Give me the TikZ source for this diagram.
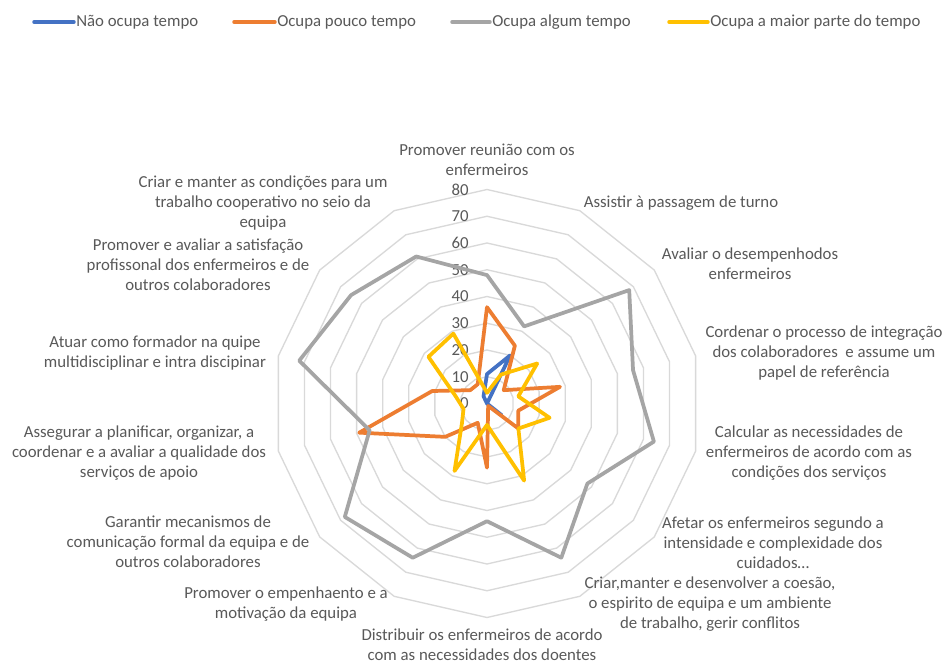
\documentclass[tikz,border=0pt]{standalone}
\usepackage{fontspec}
\setmainfont{Carlito}
\usetikzlibrary{positioning}
\definecolor{txtgray}{HTML}{595959}
\definecolor{ringgray}{HTML}{D9D9D9}
\definecolor{serA}{HTML}{4472C4}
\definecolor{serB}{HTML}{ED7D31}
\definecolor{serC}{HTML}{A5A5A5}
\definecolor{serD}{HTML}{FFC000}

\begin{document}
\begin{tikzpicture}[x=0.75pt,y=-0.75pt,
    every node/.append style={font=\fontsize{12.6}{15}\selectfont, text=txtgray},
    ring/.style={draw=ringgray, line width=1pt},
    series/.style={line width=2.8pt, line join=round},
    axlabel/.style={align=center, inner sep=0pt},
    legline/.style={line width=2.6pt, line cap=round}]
  \useasboundingbox[fill=white] (0,0) rectangle (947,664);
  % legend
  \foreach \col/\xa/\xb/\txt [count=\i] in {serA/34/74/Não ocupa tempo,
      serB/234/275/Ocupa pouco tempo, serC/452/490/Ocupa algum tempo,
      serD/669/708/Ocupa a maior parte do tempo} {
    \coordinate (leg\i a) at (\xa,22);
    \coordinate (leg\i b) at (\xb,22);
    \draw[legline, draw=\col] (leg\i a) -- (leg\i b);
    \node[anchor=west, inner sep=1.5pt] (legtxt\i) at (leg\i b) {\txt};
  }
  \begin{scope}[shift={(487,403.5)}]
    % rings 10 ... 80
    \foreach \r in {1,...,8}
      \draw[ring] (0,{-26.75*\r}) \foreach \k in {1,...,13}
        { -- ({26.75*\r*sin(\k*360/14)},{-26.75*\r*cos(\k*360/14)}) } -- cycle;
    % scale values
    \foreach \v in {0,10,...,80}
      \node[anchor=east, inner sep=0pt] (tick\v) at (-18,{-2.675*\v}) {\v};
    % data series
    \foreach \s/\col/\vals in {
        na/serA/{11,20,0,0,0,7,0,0,0,0,0,0,0,3},
        po/serB/{36,24,8,28,12,15,1,24,8,20,49,21,8,8},
        al/serC/{48,32,68,56,64,48,64,44,64,68,45,72,65,61},
        ma/serD/{4,12,24,12,24,15,32,8,28,12,9,12,28,29}} {
      \foreach \v [count=\k from 0] in \vals
        \coordinate (\s\k) at ({2.675*\v*sin(\k*360/14)},{-2.675*\v*cos(\k*360/14)});
      \draw[series, draw=\col] (\s0) \foreach \k in {1,...,13} { -- (\s\k) } -- cycle;
    }
  \end{scope}
  % category labels
  \node[axlabel] (cat0) at (487,160) {Promover reunião com os\\enfermeiros};
  \node[axlabel] (cat1) at (681,203) {Assistir à passagem de turno};
  \node[axlabel] (cat2) at (750,264) {Avaliar o desempenhodos\\enfermeiros};
  \node[axlabel] (cat3) at (824,353) {Cordenar o processo de integração\\dos colaboradores\ \ e assume um\\papel de referência};
  \node[axlabel] (cat4) at (809,453) {Calcular as necessidades de\\enfermeiros de acordo com as\\condições dos serviços};
  \node[axlabel] (cat5) at (773,543) {Afetar os enfermeiros segundo a\\intensidade e complexidade dos\\cuidados…};
  \node[axlabel] (cat6) at (710,604) {Criar,manter e desenvolver a coesão,\\o espirito de equipa e um ambiente\\de trabalho, gerir conflitos};
  \node[axlabel] (cat7) at (482,645) {Distribuir os enfermeiros de acordo\\com as necessidades dos doentes};
  \node[axlabel] (cat8) at (286,604) {Promover o empenhaento e a\\motivação da equipa};
  \node[axlabel] (cat9) at (188,542) {Garantir mecanismos de\\comunicação formal da equipa e de\\outros colaboradores};
  \node[axlabel] (cat10) at (139,453) {Assegurar a planificar, organizar, a\\coordenar e a avaliar a qualidade dos\\serviços de apoio};
  \node[axlabel] (cat11) at (155,353) {Atuar como formador na quipe\\multidisciplinar e intra discipinar};
  \node[axlabel] (cat12) at (198,265) {Promover e avaliar a satisfação\\profissonal dos enfermeiros e de\\outros colaboradores};
  \node[axlabel] (cat13) at (263,203) {Criar e manter as condições para um\\trabalho cooperativo no seio da\\equipa};
\end{tikzpicture}
\end{document}
